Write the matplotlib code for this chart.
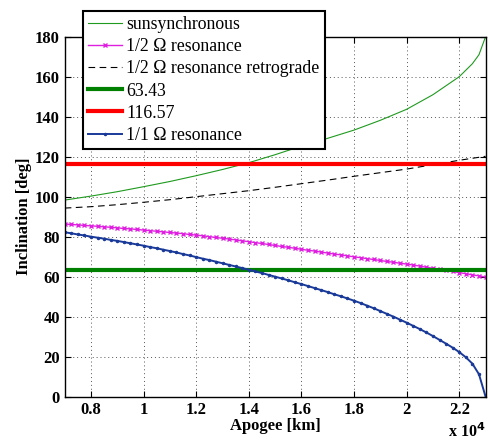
#!/usr/bin/env python3

import matplotlib
matplotlib.use('Agg')
import matplotlib.pyplot as plt

plt.rcParams['font.family'] = ['Liberation Serif', 'DejaVu Serif']
plt.rcParams['mathtext.fontset'] = 'custom'
plt.rcParams['mathtext.rm'] = 'Liberation Serif'

# apogee in units of 1e4 km, step 250 km
apogee = [0.700, 0.725, 0.750, 0.775, 0.800, 0.825, 0.850, 0.875, 0.900, 0.925,
          0.950, 0.975, 1.000, 1.025, 1.050, 1.075, 1.100, 1.125, 1.150, 1.175,
          1.200, 1.225, 1.250, 1.275, 1.300, 1.325, 1.350, 1.375, 1.400, 1.425,
          1.450, 1.475, 1.500, 1.525, 1.550, 1.575, 1.600, 1.625, 1.650, 1.675,
          1.700, 1.725, 1.750, 1.775, 1.800, 1.825, 1.850, 1.875, 1.900, 1.925,
          1.950, 1.975, 2.000, 2.025, 2.050, 2.075, 2.100, 2.125, 2.150, 2.175,
          2.200, 2.225, 2.250, 2.275, 2.300]

half_res = [86.3, 86.1, 85.9, 85.6, 85.4, 85.2, 84.9, 84.7, 84.4, 84.1,
            83.9, 83.6, 83.3, 83.0, 82.7, 82.4, 82.1, 81.8, 81.5, 81.1,
            80.8, 80.4, 80.0, 79.6, 79.2, 78.8, 78.4, 77.9, 77.5, 77.0,
            76.6, 76.1, 75.6, 75.1, 74.7, 74.2, 73.7, 73.2, 72.8, 72.3,
            71.8, 71.3, 70.9, 70.4, 69.9, 69.5, 69.0, 68.6, 68.1, 67.6,
            67.2, 66.7, 66.3, 65.8, 65.3, 64.7, 64.2, 63.7, 63.1, 62.6,
            62.0, 61.5, 60.9, 60.4, 59.8]

one_res = [82.2, 81.7, 81.1, 80.6, 80.0, 79.5, 79.0, 78.4, 77.9, 77.3,
           76.7, 76.1, 75.5, 74.8, 74.2, 73.5, 72.8, 72.1, 71.3, 70.6,
           69.8, 69.0, 68.3, 67.5, 66.7, 65.9, 65.1, 64.3, 63.5, 62.6,
           61.8, 60.9, 60.0, 59.1, 58.2, 57.2, 56.3, 55.3, 54.3, 53.3,
           52.3, 51.2, 50.2, 49.1, 48.0, 46.8, 45.5, 44.2, 42.8, 41.4,
           40.0, 38.5, 37.0, 35.4, 33.8, 32.1, 30.3, 28.4, 26.5, 24.5,
           22.3, 19.7, 16.5, 11.2, 0.0]

ss_apogee = [0.7, 0.8, 0.9, 1.0, 1.1, 1.2, 1.3, 1.4, 1.5, 1.6, 1.7, 1.8, 1.9,
             2.0, 2.1, 2.2, 2.25, 2.275, 2.3]
sunsync = [98.3, 100.3, 102.5, 105.0, 107.6, 110.5, 113.6, 117.0, 121.0, 125.3,
           129.2, 133.3, 138.2, 143.7, 151.0, 160.0, 166.5, 171.0, 180.0]

retro_apogee = [0.7, 0.8, 0.9, 1.0, 1.1, 1.2, 1.3, 1.4, 1.5, 1.6, 1.7, 1.8,
                1.9, 2.0, 2.1, 2.2, 2.3]
retro = [94.3, 95.0, 96.0, 97.2, 98.5, 100.0, 101.5, 103.0, 104.7, 106.5,
         108.3, 110.2, 112.0, 113.8, 116.0, 118.2, 120.2]

crit_lo = 63.43
crit_hi = 116.57

fig = plt.figure(figsize=(4.88, 4.41), dpi=100)
ax = fig.add_axes([0.1326, 0.1005, 0.8624, 0.8163])

l1, = ax.plot(ss_apogee, sunsync, color='#1f9a1f', lw=0.8)
l2, = ax.plot(apogee, half_res, color='#e020e0', lw=1.0, marker='x', ms=3.5, mew=1.0)
l3, = ax.plot(retro_apogee, retro, color='k', lw=0.8, ls=(0, (6, 4)))
l4 = ax.axhline(crit_lo, color='#008000', lw=3)
l5 = ax.axhline(crit_hi, color='#ff0000', lw=3)
l6, = ax.plot(apogee, one_res, color='#1a3a9a', lw=1.4, marker='.', ms=3)

ax.set_xlim(0.7, 2.3)
ax.set_ylim(0, 180)
ax.set_xticks([0.8, 1.0, 1.2, 1.4, 1.6, 1.8, 2.0, 2.2])
ax.set_xticklabels(['0.8', '1', '1.2', '1.4', '1.6', '1.8', '2', '2.2'])
ax.set_yticks(range(0, 181, 20))
ax.tick_params(direction='in', top=True, right=True, labelsize=12, length=4, width=0.8)
for lab in ax.get_xticklabels() + ax.get_yticklabels():
  lab.set_fontweight('bold')
ax.grid(True, ls=(0, (1, 3)), color='#555555', lw=0.7)
for s in ax.spines.values():
  s.set_linewidth(1.0)

ax.set_xlabel('Apogee [km]', fontsize=12, fontweight='bold', labelpad=0)
ax.set_ylabel('Inclination [deg]', fontsize=12, fontweight='bold', labelpad=2)
fig.text(0.957, 0.0, r'x 10$^{\mathbf{4}}$', fontsize=11.5, fontweight='bold',
         ha='center', va='bottom')

leg = fig.legend([l1, l2, l3, l4, l5, l6],
                 ['sunsynchronous', '1/2 \u03a9 resonance', '1/2 \u03a9 resonance retrograde',
                  '63.43', '116.57', '1/1 \u03a9 resonance'],
                 loc='upper left', bbox_to_anchor=(0.1695, 0.9757),
                 bbox_transform=fig.transFigure, borderaxespad=0,
                 fontsize=12.8, fancybox=False, framealpha=1, edgecolor='k',
                 handlelength=1.9, handletextpad=0.25, labelspacing=0.29,
                 borderpad=0.3)
leg.get_frame().set_linewidth(1.5)

plt.savefig('out.png', dpi=100)
